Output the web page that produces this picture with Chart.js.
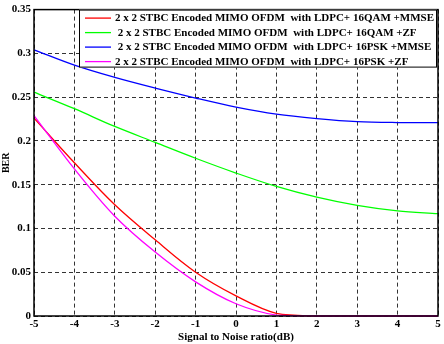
<!DOCTYPE html>
<html>
<head>
<meta charset="utf-8">
<script src="https://cdn.jsdelivr.net/npm/chart.js@4.4.1/dist/chart.umd.min.js"></script>
<style>
html, body { margin: 0; padding: 0; background: #fff; }
#wrap { width: 444px; height: 344px; }
</style>
</head>
<body>
<div id="wrap"><canvas id="berChart"></canvas></div>
<script>
// SNR points (dB) and BER
const snr = [-5, -4, -3, -2, -1, 0, 1, 2, 3, 4, 5];
const ber16QamMmse = [0.226, 0.175, 0.127, 0.087, 0.050, 0.023, 0.003, 0, 0, 0, 0];
const ber16QamZf   = [0.2557, 0.2368, 0.2165, 0.1983, 0.1802, 0.1633, 0.148, 0.1357, 0.1263, 0.120, 0.1169];
const ber16PskMmse = [0.304, 0.2865, 0.2725, 0.2603, 0.249, 0.2387, 0.2306, 0.2255, 0.222, 0.221, 0.221];
const ber16PskZf   = [0.229, 0.168, 0.114, 0.073, 0.039, 0.014, 0.001, 0, 0, 0, 0];

const seriesLabels = [
    "2 x 2 STBC Encoded MIMO OFDM  with LDPC+ 16QAM +MMSE",
    " 2 x 2 STBC Encoded MIMO OFDM  with LDPC+ 16QAM +ZF",
    " 2 x 2 STBC Encoded MIMO OFDM  with LDPC+ 16PSK +MMSE",
    "2 x 2 STBC Encoded MIMO OFDM  with LDPC+ 16PSK +ZF"
];
const seriesColors = ["#ff0000", "#00ff00", "#0000ff", "#ff00ff"];
const yTickLabels = ["0", "0.05", "0.1", "0.15", "0.2", "0.25", "0.3", "0.35"];

const FONT = "'Liberation Serif', 'Times New Roman', serif";

function toPoints(values) {
    return snr.map((x, i) => ({ x: x, y: values[i] }));
}

function makeSet(i, values, order) {
    return {
        label: seriesLabels[i],
        data: toPoints(values),
        borderColor: seriesColors[i],
        backgroundColor: seriesColors[i],
        borderWidth: 1.3,
        pointRadius: 0,
        tension: 0.35,
        clip: false,
        order: order
    };
}

// draws the box frame and the boxed legend inside the plot, like the matlab figure
const frameAndLegend = {
    id: "frameAndLegend",
    afterDatasetsDraw(chart) {
        const ctx = chart.ctx;
        const a = chart.chartArea;
        ctx.save();
        ctx.setLineDash([]);
        ctx.strokeStyle = "#000";
        ctx.lineWidth = 1.5;
        ctx.strokeRect(a.left, a.top, a.right - a.left, a.bottom - a.top);

        // legend box
        const bx = a.left + 45, by = a.top, bw = a.right - 1 - bx, bh = 58;
        ctx.fillStyle = "#fff";
        ctx.fillRect(bx, by, bw, bh);
        ctx.lineWidth = 1;
        ctx.strokeRect(bx + 0.5, by + 0.5, bw - 1, bh - 1);

        ctx.font = "bold 11px " + FONT;
        ctx.textBaseline = "middle";
        ctx.textAlign = "left";
        chart.data.datasets.forEach((ds, i) => {
            const rowY = by + 8.5 + i * 14.5;
            ctx.strokeStyle = ds.borderColor;
            ctx.lineWidth = 1.3;
            ctx.beginPath();
            ctx.moveTo(bx + 6, rowY);
            ctx.lineTo(bx + 32, rowY);
            ctx.stroke();
            ctx.fillStyle = "#000";
            ctx.fillText(ds.label, bx + 36, rowY + 0.5);
        });
        ctx.restore();
    }
};

const ctx = document.getElementById("berChart").getContext("2d");
new Chart(ctx, {
    type: "line",
    data: {
        datasets: [
            makeSet(0, ber16QamMmse, 3),
            makeSet(1, ber16QamZf, 2),
            makeSet(2, ber16PskMmse, 1),
            makeSet(3, ber16PskZf, 0)
        ]
    },
    options: {
        responsive: true,
        maintainAspectRatio: false,
        animation: false,
        layout: { padding: { top: 7, right: 6, left: 0, bottom: 0 } },
        plugins: {
            legend: { display: false },
            tooltip: { enabled: false }
        },
        scales: {
            x: {
                type: "linear",
                min: -5,
                max: 5,
                afterFit: (scale) => { scale.height = 28; },
                ticks: {
                    stepSize: 1,
                    padding: 2,
                    color: "#000",
                    font: { family: FONT, size: 11, weight: "bold" }
                },
                grid: { color: "#333", lineWidth: 1, drawTicks: false },
                border: { display: false, dash: [4, 3] },
                title: {
                    display: true,
                    text: "Signal to Noise ratio(dB)",
                    color: "#000",
                    padding: 0,
                    font: { family: FONT, size: 11, weight: "bold" }
                }
            },
            y: {
                min: 0,
                max: 0.35,
                afterFit: (scale) => { scale.width = 34; },
                ticks: {
                    stepSize: 0.05,
                    padding: 3,
                    color: "#000",
                    font: { family: FONT, size: 11, weight: "bold" },
                    callback: (v, i) => yTickLabels[i]
                },
                grid: { color: "#333", lineWidth: 1, drawTicks: false },
                border: { display: false, dash: [4, 3] },
                title: {
                    display: true,
                    text: "BER",
                    color: "#000",
                    padding: 0,
                    font: { family: FONT, size: 10, weight: "bold" }
                }
            }
        }
    },
    plugins: [frameAndLegend]
});
</script>
</body>
</html>
